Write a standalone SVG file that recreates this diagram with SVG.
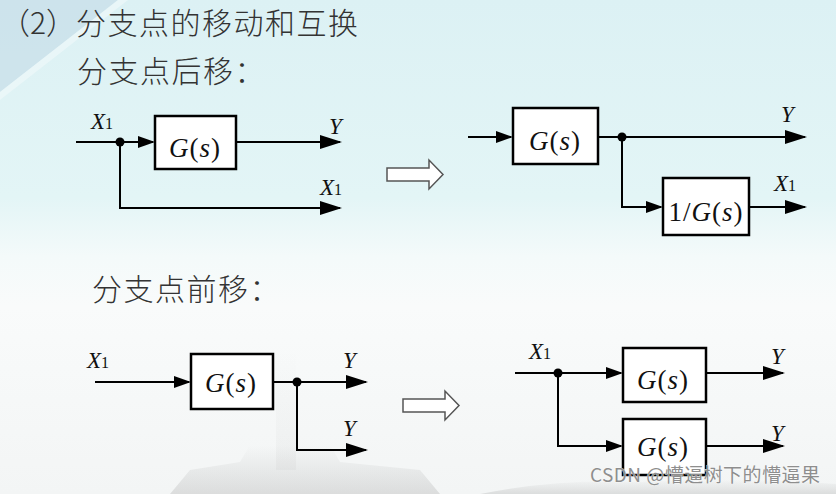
<svg xmlns="http://www.w3.org/2000/svg" width="836" height="494" viewBox="0 0 836 494">
<defs>
<linearGradient id="bg" x1="0" y1="0" x2="0" y2="1">
<stop offset="0" stop-color="#dcf1f4"/>
<stop offset="0.4" stop-color="#e3f5f6"/>
<stop offset="0.52" stop-color="#f4fafa"/>
<stop offset="0.62" stop-color="#f9fbfb"/>
<stop offset="1" stop-color="#f3f5f5"/>
</linearGradient>
<linearGradient id="bld" x1="0" y1="0" x2="0" y2="1">
<stop offset="0" stop-color="#888" stop-opacity="0"/>
<stop offset="1" stop-color="#888" stop-opacity="0.22"/>
</linearGradient>
<marker id="aS" viewBox="0 0 17 12" refX="15" refY="6" markerWidth="17" markerHeight="12" orient="auto" markerUnits="userSpaceOnUse"><path d="M0,0 L17,6 L0,12 z" fill="#000"/></marker>
<marker id="aL" viewBox="0 0 22 14" refX="20" refY="7" markerWidth="22" markerHeight="14" orient="auto" markerUnits="userSpaceOnUse"><path d="M0,0 L22,7 L0,14 z" fill="#000"/></marker>
<path id="hollow" d="M0,8 L42,8 L42,0 L56,14.5 L42,29 L42,21 L0,21 z"/>
</defs>
<style>
.cjk{font-family:"Noto Sans CJK SC","Noto Sans",sans-serif;font-size:30px;font-weight:300;fill:#333;letter-spacing:1.5px}
.box{fill:#fff;stroke:#000;stroke-width:2.5}
.ln{fill:none;stroke:#000;stroke-width:2}
.m{font-family:"Liberation Serif","Times New Roman",serif;fill:#111}
.g{font-size:27px;letter-spacing:1px}
.it{font-style:italic}
.lbl{font-size:23px}
.sub{font-size:16px;font-style:normal}
.dot{fill:#000}
.ha{fill:#fff;stroke:#555;stroke-width:1.5}
</style>
<rect width="836" height="494" fill="url(#bg)"/>
<polygon points="0,0 118,0 0,92" fill="#c9e0ea" opacity="0.8"/>
<polygon points="118,0 128,0 0,100 0,92" fill="#eef8fa" opacity="0.7"/>
<g fill="url(#bld)">
<rect x="276" y="350" width="20" height="120" opacity="0.3"/>
<path d="M170,494 L190,470 L240,462 L250,445 L330,445 L340,462 L420,470 L440,494 z"/>
<path d="M480,494 Q560,478 640,482 Q740,476 836,484 L836,494 z"/>
</g>
<g id="title">
<text class="cjk" x="0" y="34"><tspan style="letter-spacing:0">（2）</tspan>分支点的移动和互换</text>
<text class="cjk" x="77" y="82">分支点后移：</text>
<text class="cjk" x="92" y="300">分支点前移：</text>
</g>
<g id="connectors">
<path class="ln" d="M76,142 H153" marker-end="url(#aS)"/>
<path class="ln" d="M236,142 H340" marker-end="url(#aL)"/>
<path class="ln" d="M120,142 V208 H340" marker-end="url(#aL)"/>
<path class="ln" d="M468,137 H511" marker-end="url(#aS)"/>
<path class="ln" d="M598,137 H805" marker-end="url(#aL)"/>
<path class="ln" d="M622,137 V207 H661" marker-end="url(#aS)"/>
<path class="ln" d="M749,207 H805" marker-end="url(#aL)"/>
<path class="ln" d="M95,382 H189" marker-end="url(#aS)"/>
<path class="ln" d="M273,382 H366" marker-end="url(#aL)"/>
<path class="ln" d="M297,382 V450 H366" marker-end="url(#aL)"/>
<path class="ln" d="M515,373 H621" marker-end="url(#aS)"/>
<path class="ln" d="M706,373 H783" marker-end="url(#aL)"/>
<path class="ln" d="M558,373 V446 H621" marker-end="url(#aS)"/>
<path class="ln" d="M706,446 H783" marker-end="url(#aL)"/>
<circle class="dot" cx="120" cy="142" r="4.5"/>
<circle class="dot" cx="622" cy="137" r="4.5"/>
<circle class="dot" cx="297" cy="382" r="4.5"/>
<circle class="dot" cx="558" cy="373" r="4.5"/>
</g>
<g id="arrow1"><use href="#hollow" class="ha" x="387" y="160"/></g>
<g id="arrow2"><use href="#hollow" class="ha" x="403" y="391"/></g>
<g id="labels" class="m">
<text class="lbl" x="91" y="129"><tspan class="it">X</tspan><tspan class="sub">1</tspan></text>
<text class="lbl it" x="329" y="134">Y</text>
<text class="lbl" x="320" y="195"><tspan class="it">X</tspan><tspan class="sub">1</tspan></text>
<text class="lbl it" x="781" y="122">Y</text>
<text class="lbl" x="774" y="191"><tspan class="it">X</tspan><tspan class="sub">1</tspan></text>
<text class="lbl" x="87" y="368"><tspan class="it">X</tspan><tspan class="sub">1</tspan></text>
<text class="lbl it" x="343" y="368">Y</text>
<text class="lbl it" x="343" y="436">Y</text>
<text class="lbl" x="529" y="359"><tspan class="it">X</tspan><tspan class="sub">1</tspan></text>
<text class="lbl it" x="771" y="364">Y</text>
<text class="lbl it" x="771" y="441">Y</text>
</g>
<g id="G1">
<rect class="box" x="155" y="116" width="81" height="53"/>
<text class="m g" x="195" y="157" text-anchor="middle"><tspan class="it">G</tspan>(<tspan class="it">s</tspan>)</text>
</g>
<g id="G2">
<rect class="box" x="513" y="108" width="85" height="56"/>
<text class="m g" x="555" y="150" text-anchor="middle"><tspan class="it">G</tspan>(<tspan class="it">s</tspan>)</text>
</g>
<g id="invG">
<rect class="box" x="663" y="178" width="86" height="57"/>
<text class="m g" x="706" y="221" text-anchor="middle">1/<tspan class="it">G</tspan>(<tspan class="it">s</tspan>)</text>
</g>
<g id="G3">
<rect class="box" x="191" y="354" width="82" height="55"/>
<text class="m g" x="231" y="392" text-anchor="middle"><tspan class="it">G</tspan>(<tspan class="it">s</tspan>)</text>
</g>
<g id="G4">
<rect class="box" x="623" y="348" width="83" height="54"/>
<text class="m g" x="663" y="389" text-anchor="middle"><tspan class="it">G</tspan>(<tspan class="it">s</tspan>)</text>
</g>
<g id="G5">
<rect class="box" x="623" y="419" width="83" height="56"/>
<text class="m g" x="663" y="456" text-anchor="middle"><tspan class="it">G</tspan>(<tspan class="it">s</tspan>)</text>
</g>
<g id="watermark">
<text x="590" y="482" textLength="230" lengthAdjust="spacing" style="font-family:'Noto Sans CJK SC','Noto Sans',sans-serif;font-size:19px;fill:#8e8e8e;stroke:#fff;stroke-width:0.6;paint-order:stroke">CSDN @懵逼树下的懵逼果</text>
</g>
</svg>
